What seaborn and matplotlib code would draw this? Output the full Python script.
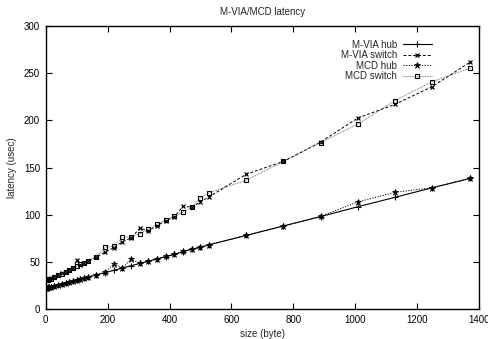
import matplotlib
matplotlib.use("Agg")
import matplotlib.pyplot as plt
import seaborn as sns
import pandas as pd

# message sizes (bytes)
sizes = [0, 4, 8, 12, 16, 28, 40, 52, 64, 76, 88, 100, 112, 124, 136, 164,
         192, 220, 248, 276, 304, 332, 360, 388, 416, 444, 472, 500, 528,
         648, 768, 888, 1008, 1128, 1248, 1372]

# latency (usec)
mvia_hub = [22.0, 22.3, 22.7, 23.0, 23.4, 24.4, 25.4, 26.5, 27.5, 28.6, 29.6,
            30.7, 31.7, 32.8, 33.8, 36.2, 38.6, 41.0, 43.5, 45.9, 48.3, 50.7,
            53.1, 55.5, 58.0, 60.8, 63.4, 65.4, 68.1, 78.0, 88.0, 98.0, 108.4,
            118.4, 128.5, 138.5]
mvia_switch = [30.5, 30.8, 31.3, 31.8, 32.4, 34.2, 36.0, 37.8, 39.6, 41.5, 43.4,
               51.5, 47.0, 48.8, 50.7, 55.0, 60.5, 65.0, 71.4, 75.5, 85.5, 83.0,
               88.5, 93.5, 98.0, 109.0, 108.0, 113.8, 119.0, 143.0, 156.5, 177.0,
               202.5, 217.0, 235.7, 262.0]
mcd_hub = [22.2, 22.5, 22.9, 23.2, 23.6, 24.6, 25.6, 26.7, 27.7, 28.8, 29.8,
           30.9, 31.9, 33.0, 34.0, 36.4, 38.8, 47.8, 43.7, 52.7, 48.5, 50.9,
           53.3, 55.7, 58.2, 61.0, 63.6, 65.6, 68.3, 78.2, 88.2, 98.2, 113.5,
           123.7, 128.6, 138.6]
mcd_switch = [30.5, 30.8, 31.2, 31.7, 32.2, 34.0, 35.8, 37.5, 39.4, 41.2, 43.2,
              45.3, 47.2, 49.0, 51.0, 55.5, 65.5, 66.5, 76.0, 76.5, 80.0, 84.5,
              89.8, 94.4, 98.6, 102.9, 108.0, 118.0, 123.4, 136.5, 156.5, 176.5,
              196.0, 221.0, 241.0, 255.6]

x_ticks = [0, 200, 400, 600, 800, 1000, 1200, 1400]
y_ticks = [0, 50, 100, 150, 200, 250, 300]

sns.set_style("ticks")
plt.rcParams["font.family"] = ["Liberation Sans", "DejaVu Sans"]
plt.rcParams["font.size"] = 7

fig = plt.figure(figsize=(4.88, 3.39), dpi=100)
ax = fig.add_axes([0.0937, 0.0885, 0.888, 0.8345])

series = [
    ("M-VIA hub", mvia_hub, dict(marker="+", linestyle="-", color="black",
                                 linewidth=0.8, markersize=5, mew=0.8)),
    ("M-VIA switch", mvia_switch, dict(marker="x", linestyle=(0, (3, 2)), color="black",
                                       linewidth=0.7, markersize=3.5, mew=0.9)),
    ("MCD hub", mcd_hub, dict(marker="*", linestyle=(0, (1.2, 1.5)), color="black",
                              linewidth=0.7, markersize=5, mew=0.5, mfc="black")),
    ("MCD switch", mcd_switch, dict(marker="s", linestyle=(0, (1, 1)), color="#555555",
                                    linewidth=0.6, markersize=3.5, mew=0.8,
                                    mfc="none")),
]

for name, vals, kw in series:
    df = pd.DataFrame({"size": sizes, "latency": vals})
    sns.lineplot(data=df, x="size", y="latency", ax=ax, label=name,
                 mec="black", **kw)

ax.set_xlim(0, 1400)
ax.set_ylim(0, 300)
ax.set_xticks(x_ticks)
ax.set_yticks(y_ticks)
ax.tick_params(direction="in", length=4, width=0.8, top=True, right=True,
               labelsize=7, pad=4, colors="black")
for sp in ax.spines.values():
    sp.set_visible(True)
    sp.set_linewidth(1.0)
    sp.set_color("black")

ax.set_xlabel("size (byte)", fontsize=7, labelpad=3)
ax.set_ylabel("latency (usec)", fontsize=7, labelpad=5)
ax.set_title("M-VIA/MCD latency", fontsize=7, pad=8)

leg = ax.legend(loc="upper right", bbox_to_anchor=(0.9, 0.965), frameon=False,
                markerfirst=False, handlelength=3.0, labelspacing=0.05,
                handletextpad=0.6, borderaxespad=0, numpoints=1, fontsize=7)
for t in leg.get_texts():
    t.set_ha("right")
leg._legend_box.align = "right"

fig.savefig("out.png", dpi=100)
